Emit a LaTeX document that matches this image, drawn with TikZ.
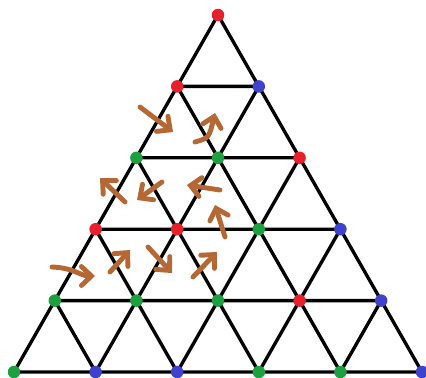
\documentclass[tikz,border=0pt]{standalone}
\usepackage{tikz}
\usetikzlibrary{arrows.meta}

\definecolor{dotred}{RGB}{232,32,44}
\definecolor{dotblue}{RGB}{62,66,204}
\definecolor{dotgreen}{RGB}{28,160,64}
\definecolor{flowbrown}{RGB}{182,104,52}

\begin{document}
\begin{tikzpicture}[x=0.02cm, y=-0.02cm,
  edge/.style={line width=1.9pt, draw=black, line join=round},
  vdot/.style={circle, inner sep=0pt, minimum size=0.25cm},
  flow/.style={line width=2.8pt, draw=flowbrown, line cap=round,
    -{Straight Barb[length=2mm, width=3.8mm, line cap=round]}}]
  \useasboundingbox (0,0) rectangle (426,378);
  % lattice points
  \foreach \j in {0,...,5}
    \foreach \k in {0,...,\j}
      \coordinate (p-\j-\k) at ({218+(\k-\j/2)*81.6},{15+\j*71.4});
  % small up triangles
  \foreach \j in {0,...,4} {
    \pgfmathtruncatemacro{\jn}{\j+1}
    \foreach \k in {0,...,\j} {
      \pgfmathtruncatemacro{\kn}{\k+1}
      \draw[edge] (p-\j-\k) -- (p-\jn-\k) -- (p-\jn-\kn) -- cycle;
    }
  }
  % coloured vertices
  \foreach \j/\k/\c in {0/0/dotred,
      1/0/dotred, 1/1/dotblue,
      2/0/dotgreen, 2/1/dotgreen, 2/2/dotred,
      3/0/dotred, 3/1/dotred, 3/2/dotgreen, 3/3/dotblue,
      4/0/dotgreen, 4/1/dotgreen, 4/2/dotgreen, 4/3/dotred, 4/4/dotblue,
      5/0/dotgreen, 5/1/dotblue, 5/2/dotblue, 5/3/dotgreen, 5/4/dotgreen, 5/5/dotblue}
    \node[vdot, fill=\c] (v-\j-\k) at (p-\j-\k) {};
  % flow arrows
  \draw[flow] (140,107) -- (173,132);
  \draw[flow] (195,142) .. controls (209,138) .. (215,113);
  \draw[flow] (125,202) -- (100,178);
  \draw[flow] (162,182) -- (137,200);
  \draw[flow] (220,190) -- (187,185);
  \draw[flow] (225,237) -- (215,205);
  \draw[flow] (52,267) .. controls (75,268) and (80,276) .. (95,276);
  \draw[flow] (110,272) -- (130,250);
  \draw[flow] (148,247) -- (172,273);
  \draw[flow] (193,277) -- (217,252);
\end{tikzpicture}
\end{document}
